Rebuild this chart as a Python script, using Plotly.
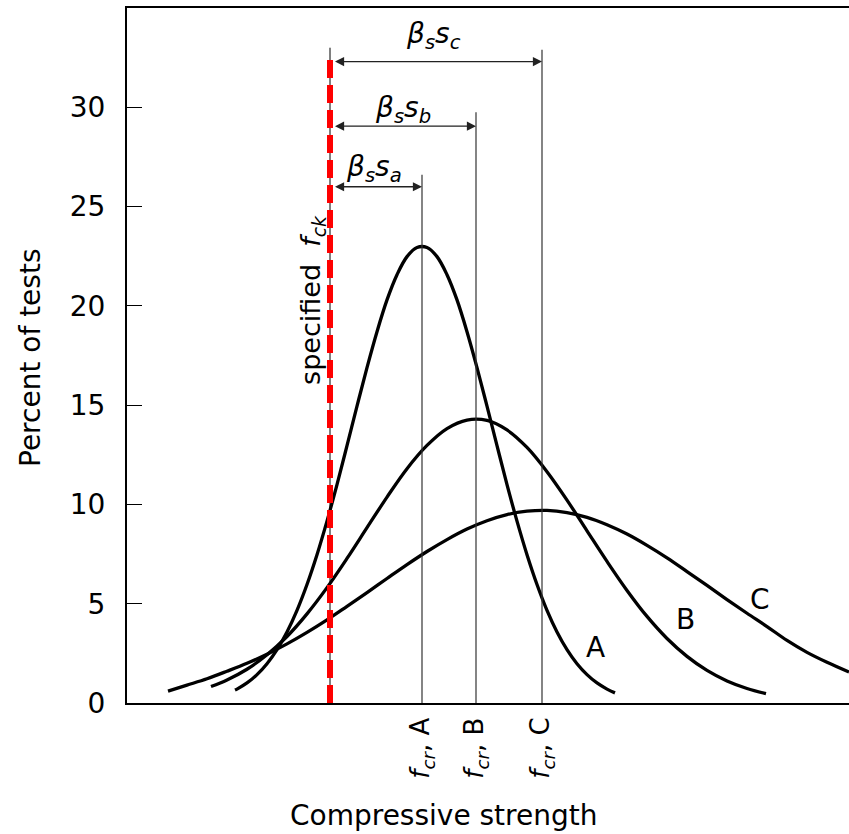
import plotly.graph_objects as go

# ---- data (x in strength units, y in percent of tests) ----
x_A = [10.8, 11, 12, 13, 14, 15, 16, 17, 18, 19, 20, 21, 22, 23, 24, 25, 26, 27, 28, 29,
       30, 31, 32, 33, 34, 35, 36, 37, 38, 39, 40, 41, 42, 43, 44, 45, 46, 47, 48, 48.8]
y_A = [0.65, 0.70, 1.01, 1.43, 1.98, 2.69, 3.58, 4.67, 5.97, 7.47, 9.16, 11.0, 12.96, 14.95, 16.89, 18.7, 20.30, 21.57, 22.48, 22.94,
       22.94, 22.48, 21.57, 20.30, 18.7, 16.89, 14.95, 12.96, 11.0, 9.16, 7.47, 5.97, 4.67, 3.58, 2.69, 1.98, 1.43, 1.01, 0.70, 0.51]

x_B = [8.4, 10, 12, 14, 16, 18, 20, 22, 24, 26, 28, 30, 32, 34, 36, 38, 40, 42, 44, 46,
       48, 50, 52, 54, 56, 58, 60, 62, 63.9]
y_B = [0.83, 1.16, 1.70, 2.43, 3.35, 4.49, 5.81, 7.28, 8.83, 10.37, 11.8, 12.97, 13.82, 14.25, 14.23, 13.75, 12.87, 11.65, 10.22, 8.67,
       7.13, 5.67, 4.36, 3.25, 2.35, 1.64, 1.11, 0.73, 0.47]

x_C = [4.1, 6, 8, 10, 12, 14, 16, 18, 20, 22, 24, 26, 28, 30, 32, 34, 36, 38, 40, 42,
       44, 46, 48, 50, 52, 54, 56, 58, 60, 62, 64, 66, 68, 70, 72.2]
y_C = [0.6, 0.9, 1.22, 1.60, 2.0, 2.46, 2.98, 3.56, 4.19, 4.87, 5.56, 6.27, 6.97, 7.63, 8.23, 8.76, 9.18, 9.49, 9.66, 9.70,
       9.59, 9.35, 8.98, 8.51, 7.94, 7.31, 6.62, 5.92, 5.21, 4.52, 3.85, 3.15, 2.55, 2.05, 1.56]

curve_names = ["A", "B", "C"]
label_x = [46.8, 55.8, 63.3]
label_y = [2.8, 4.2, 5.2]

f_ck = 20.3
f_cr = [29.5, 34.9, 41.5]
f_cr_line_top = [26.6, 29.75, 32.9]
f_ck_line_top = 33.0
f_ck_dash_top = 32.5
arrow_y = [26.0, 29.05, 32.3]
beta_labels = ["<i>β<sub>s</sub>s<sub>a</sub></i>", "<i>β<sub>s</sub>s<sub>b</sub></i>", "<i>β<sub>s</sub>s<sub>c</sub></i>"]
beta_label_x = [24.7, 27.6, 30.6]
beta_label_y = [26.9, 29.9, 33.6]

y_ticks = [0, 5, 10, 15, 20, 25, 30]
x_range = [0, 72.2]
y_range = [0, 35]

FONT = "DejaVu Sans"
FS = 28

fig = go.Figure()
for xs, ys in [(x_A, y_A), (x_B, y_B), (x_C, y_C)]:
    fig.add_trace(go.Scatter(x=xs, y=ys, mode="lines",
                             line=dict(color="black", width=3.3, shape="spline", smoothing=1),
                             showlegend=False, hoverinfo="skip"))

shapes = []
# thin vertical lines at f_cr
for xv, top in zip(f_cr, f_cr_line_top):
    shapes.append(dict(type="line", xref="x", yref="y", x0=xv, x1=xv, y0=0, y1=top,
                       line=dict(color="#333333", width=1.2)))
# thin black line under f_ck
shapes.append(dict(type="line", xref="x", yref="y", x0=f_ck, x1=f_ck, y0=0, y1=f_ck_line_top,
                   line=dict(color="black", width=1)))
# red dashed f_ck
shapes.append(dict(type="line", xref="x", yref="y", x0=f_ck, x1=f_ck, y0=0, y1=f_ck_dash_top,
                   line=dict(color="#ff0000", width=6, dash="18px,7px")))

annotations = []
# dimension arrows
for xv, ya in zip(f_cr, arrow_y):
    annotations.append(dict(x=xv, y=ya, ax=f_ck + 0.3, ay=ya, xref="x", yref="y", axref="x", ayref="y",
                            text=" ", showarrow=True, arrowhead=2, arrowside="end+start",
                            arrowsize=1.3, arrowwidth=1.4, arrowcolor="#222222",
                            standoff=0, startstandoff=0, font=dict(size=2)))
for t, xv, yv in zip(beta_labels, beta_label_x, beta_label_y):
    annotations.append(dict(x=xv, y=yv, xref="x", yref="y", text=t, showarrow=False,
                            font=dict(family=FONT, size=FS, color="black")))
# curve labels
for t, xv, yv in zip(curve_names, label_x, label_y):
    annotations.append(dict(x=xv, y=yv, xref="x", yref="y", text=t, showarrow=False,
                            font=dict(family=FONT, size=FS, color="black")))
# f_cr labels below axis
for xv, n in zip(f_cr, curve_names):
    annotations.append(dict(x=xv, y=-0.019, xref="x", yref="paper", text="<i>f</i><sub><i>cr</i></sub>, " + n,
                            textangle=-90, showarrow=False, xanchor="center", yanchor="top",
                            font=dict(family=FONT, size=FS - 2, color="black")))
# specified f_ck label
annotations.append(dict(x=f_ck - 1.7, y=20.3, xref="x", yref="y",
                        text="specified\u00a0\u00a0<i>f</i><sub><i>ck</i></sub>",
                        textangle=-90, showarrow=False, xanchor="center", yanchor="middle",
                        font=dict(family=FONT, size=FS - 1, color="black")))
# axis titles
annotations.append(dict(x=(443 - 127) / 722, y=-(815 - 703) / 695, xref="paper", yref="paper",
                        text="Compressive strength", showarrow=False, xanchor="center", yanchor="middle",
                        font=dict(family=FONT, size=FS, color="black")))
annotations.append(dict(x=(30 - 127) / 722, y=(703 - 358) / 695, xref="paper", yref="paper",
                        text="Percent of tests", textangle=-90, showarrow=False,
                        xanchor="center", yanchor="middle",
                        font=dict(family=FONT, size=FS, color="black")))

fig.update_layout(
    width=849, height=834,
    margin=dict(l=127, r=0, t=8, b=131),
    paper_bgcolor="white", plot_bgcolor="white",
    shapes=shapes, annotations=annotations,
    font=dict(family=FONT, size=FS, color="black"),
    xaxis=dict(range=x_range, showgrid=False, zeroline=False, showline=True, mirror=True,
               linecolor="black", linewidth=2, showticklabels=False, ticks=""),
    yaxis=dict(range=y_range, showgrid=False, zeroline=False, showline=True,
               linecolor="black", linewidth=2, tickvals=y_ticks, ticktext=[str(v) for v in y_ticks],
               ticks="inside", ticklen=15, tickwidth=1, tickcolor="black",
               ticklabelstandoff=14, tickfont=dict(family=FONT, size=FS, color="black")),
)

fig.write_html("out.html", config={"displayModeBar": False},
               post_script="document.body.style.margin='0px';document.body.style.overflow='hidden';")
